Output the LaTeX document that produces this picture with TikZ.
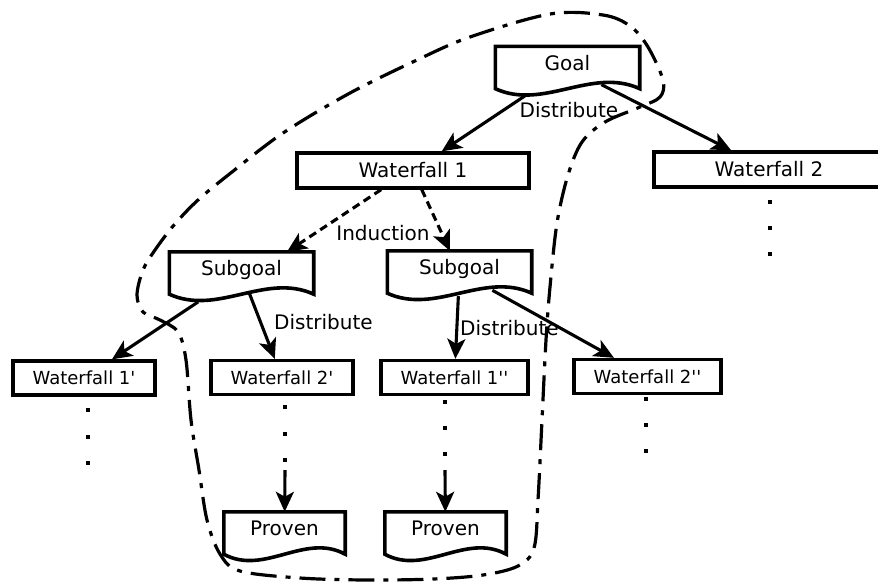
\documentclass[tikz,border=0pt]{standalone}
\usepackage{fontspec}
\setmainfont{DejaVu Sans}[Ligatures=TeXOff]
\usetikzlibrary{arrows.meta,calc}

% outline of a "document" node: straight top and sides, wavy bottom edge
\newcommand\docoutline[1]{%
  \draw[boxline] (#1.south east)
    .. controls ($(#1.south east)!0.333!(#1.south west)+(0,-22)$)
           and ($(#1.south east)!0.667!(#1.south west)+(0,22)$) .. (#1.south west)
    -- (#1.north west) -- (#1.north east) -- cycle;}

\begin{document}
\begin{tikzpicture}[x=1pt,y=-1pt,
  boxline/.style={line width=3.6pt, line join=miter},
  rectbox/.style={draw, line width=3.3pt, inner sep=0pt,
    font=\fontsize{20}{24}\selectfont, text height=14.6pt, text depth=0pt,
    minimum height=35pt},
  smallbox/.style={rectbox, font=\fontsize{18}{22}\selectfont,
    text height=13.1pt, minimum height=34pt},
  docbox/.style={inner sep=0pt, minimum width=144pt, minimum height=42pt,
    font=\fontsize{20}{24}\selectfont, text height=15pt, text depth=10pt},
  lbl/.style={inner sep=0pt, font=\fontsize{20}{24}\selectfont,
    text height=14.6pt, text depth=0pt},
  link/.style={line width=3.1pt, -{Stealth[length=20pt,width=18pt,inset=5pt]}},
  dlink/.style={link, dash pattern=on 8pt off 5pt},
  dotmark/.style={fill, inner sep=0pt, minimum size=4pt},
  hull/.style={line width=3.2pt, line cap=butt,
    dash pattern=on 26pt off 9pt on 5pt off 9pt}
]
\useasboundingbox (0,0) rectangle (878,582);

% ---- nodes ----
\node[docbox] (goal) at (567.5,67.5) {Goal};
\node[rectbox, minimum width=232pt] (wf1) at (413,170.5) {Waterfall 1};
\node[rectbox, minimum width=230pt] (wf2) at (769,169.5) {Waterfall 2};

\node[docbox] (sub1) at (241.5,273) {Subgoal};
\node[docbox] (sub2) at (459.5,272) {Subgoal};

\node[smallbox, minimum width=142pt] (w1p)  at (84,378)     {Waterfall 1'};
\node[smallbox, minimum width=142pt] (w2p)  at (282,377.5)  {Waterfall 2'};
\node[smallbox, minimum width=147pt] (w1pp) at (454.5,377.5){Waterfall 1''};
\node[smallbox, minimum width=147pt] (w2pp) at (647.5,376.5){Waterfall 2''};

\node[docbox, minimum width=121pt] (pv1) at (284.5,533) {Proven};
\node[docbox, minimum width=121pt] (pv2) at (445.5,533) {Proven};

\foreach \n in {goal,sub1,sub2,pv1,pv2} {\docoutline{\n}}

% ---- edge labels ----
\node[lbl] (lgoal)  at (569,110)   {Distribute};
\node[lbl] (lind)   at (383,233)   {Induction};
\node[lbl] (lsub1)  at (323.5,322) {Distribute};
\node[lbl] (lsub2)  at (509.5,328) {Distribute};

% ---- connectors ----
\draw[link, shorten <=11pt] (goal) -- (wf1);
\draw[link, shorten <=-9pt] (goal) -- (wf2);
\draw[dlink] (wf1.-149) -- (sub1.25);
\draw[dlink] (wf1) -- (sub2);
\draw[link, shorten <=14pt] (sub1) -- (w1p);
\draw[link, shorten <=-3pt] (sub1) -- (w2p);
\draw[link, shorten <=3pt]  (sub2) -- (w1pp);
\draw[link, shorten <=-6pt] (sub2) -- (w2pp);

% ---- continuation dots ----
\foreach \x/\y [count=\i] in {770/202, 770/228, 770/254,
                               88/410, 88/437, 88/463,
                               285/407, 285/434, 285/460,
                               445/402, 445/428, 445/454,
                               646/399, 646/425, 646/451}
  \node[dotmark] (dot\i) at (\x,\y) {};

\coordinate (in1) at (285,470);
\coordinate (in2) at (445,470);
\draw[link] (in1) -- (pv1);
\draw[link] (in2) -- (pv2);

% ---- dash-dotted hull around the proof branch ----
\draw[hull] plot[smooth cycle, tension=0.55] coordinates {
  (550,14) (603,15) (630,26) (648,47) (663,80) (660,97) (640,107)
  (605,122) (582,142) (568,175) (557,223) (550,287) (546,340)
  (542,420) (538,500) (534,548) (518,566) (483,575) (433,579)
  (367,580) (300,578) (240,571) (220,554) (207,520) (199,470)
  (191,420) (186,360) (178,332) (160,320) (143,312) (137,295)
  (143,270) (155,250) (174,225) (198,200) (232,172) (283,133)
  (350,93) (417,60) (470,37)};
\end{tikzpicture}
\end{document}
